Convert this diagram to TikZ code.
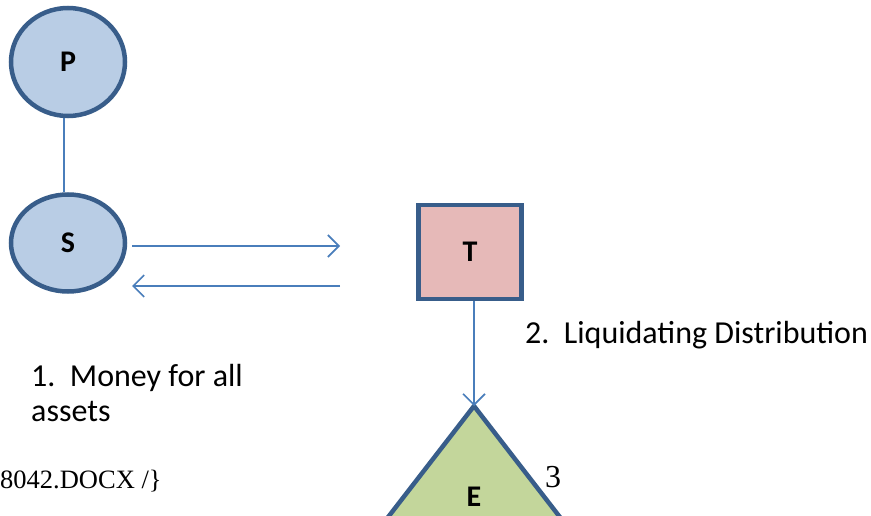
\documentclass[tikz,border=0pt]{standalone}
\usepackage{fontspec}
\setmainfont{Carlito}
\newfontfamily\timesfont{Liberation Serif}
\usetikzlibrary{arrows.meta,shapes.geometric}
\definecolor{edgeblue}{HTML}{385D8A}
\definecolor{linkblue}{HTML}{4A7EBB}
\definecolor{partyfill}{HTML}{B9CDE5}
\definecolor{trustfill}{HTML}{E6B9B8}
\definecolor{entityfill}{HTML}{C3D69B}
\tikzset{
  x=1pt, y=-1pt,
  party/.style={ellipse, draw=edgeblue, fill=partyfill, line width=4.5pt, inner sep=0pt},
  link/.style={draw=linkblue, line width=1.6pt},
  flow/.style={link, -{Straight Barb[length=11pt, width=22pt, line width=1.6pt]}},
  lbl/.style={font=\fontsize{32}{38}\selectfont, anchor=base west, inner sep=0pt},
  letter/.style={font=\fontsize{30}{34}\selectfont\bfseries}
}
\begin{document}
\begin{tikzpicture}
\useasboundingbox (0,0) rectangle (871,516);
\clip (0,0) rectangle (871,516);

% parties
\node[party, minimum width=114pt, minimum height=108pt, letter] (P) at (68,62) {P};
\node[party, minimum width=114pt, minimum height=97pt, letter] (S) at (68,243) {S};
\draw[link] (P.south -| 64,0) -- (S.north -| 64,0);

% trust
\node[draw=edgeblue, fill=trustfill, line width=4.5pt, minimum width=103pt, minimum height=94pt, inner sep=0pt, letter] (T) at (470,252) {T};

% entity triangle, running off the lower edge
\coordinate (apex) at (474,406);
\filldraw[draw=edgeblue, fill=entityfill, line width=4.5pt, line join=round] (apex) -- (324,600) -- (624,600) -- cycle;
\node[letter] (E) at (474,497) {E};
\node[font=\timesfont\fontsize{32}{34}\selectfont, inner sep=0pt] (three) at (553,477) {3};

% exchange arrows
\coordinate (sOut) at (132,246);
\coordinate (tIn) at (340,246);
\coordinate (tOut) at (340,286);
\coordinate (sIn) at (132,286);
\draw[flow] (sOut) -- (tIn);
\draw[flow] (tOut) -- (sIn);
\draw[flow] (T.south -| apex) -- (apex);

% labels
\node[lbl] (liq) at (525,343) {2.\ \ Liquidating Distribution};
\node[lbl] (money) at (31,386) {1.\ \ Money for all};
\node[lbl] (assets) at (31,421) {assets};
\node[font=\timesfont\fontsize{26.5}{28}\selectfont, anchor=base west, inner sep=0pt] (doc) at (0,488) {8042.DOCX /\}};
\end{tikzpicture}
\end{document}
